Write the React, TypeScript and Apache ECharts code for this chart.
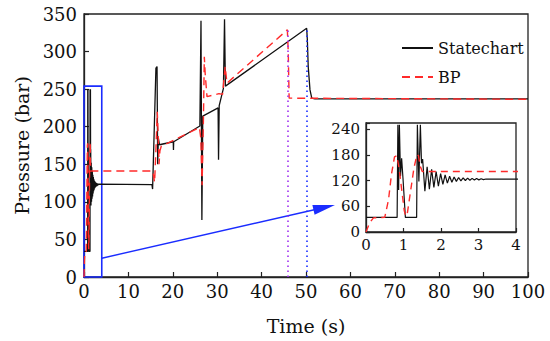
import React, { useEffect, useRef } from "react";
import * as echarts from "echarts";

// Time (s), Pressure (bar)
const statechart: [number, number][] = [
  [0, 34], [0.83, 34], [0.85, 250], [0.87, 98], [0.89, 250], [0.92, 130], [0.95, 172], [0.99, 120], [1.05, 34],
  [1.35, 34], [1.37, 250], [1.41, 118], [1.45, 250], [1.48, 160], [1.51, 170], [1.57, 95], [1.63, 152], [1.69, 100],
  [1.75, 146], [1.81, 104], [1.87, 141], [1.93, 107], [1.99, 136], [2.05, 111], [2.11, 133], [2.17, 114], [2.23, 130],
  [2.29, 116], [2.35, 128], [2.41, 118], [2.47, 127], [2.53, 119], [2.59, 126], [2.65, 120], [2.71, 125.5], [2.77, 120.5],
  [2.83, 125], [2.89, 121], [2.95, 124.5], [3.01, 121.5], [3.07, 124], [3.13, 122], [3.2, 123.5], [3.3, 123],
  [15.3, 123], [15.45, 117], [16.2, 278], [16.45, 280], [16.6, 150], [16.75, 185], [17.0, 176], [20.1, 180],
  [20.15, 169], [20.2, 180], [26.1, 201], [26.35, 341], [26.45, 200], [26.55, 76], [26.75, 214], [30.2, 225],
  [30.3, 156], [30.45, 228], [31.4, 251], [31.65, 343], [31.85, 254], [50.15, 331], [50.3, 316], [50.5, 280],
  [50.9, 249], [51.3, 238], [52, 237], [100, 237],
];

const bp: [number, number][] = [
  [0, 0], [0.1, 22], [0.2, 33], [0.5, 34], [0.6, 75], [0.68, 135], [0.76, 175], [0.82, 178], [0.88, 150], [0.95, 100],
  [1.02, 50], [1.06, 37], [1.1, 42], [1.18, 90], [1.28, 150], [1.36, 180], [1.4, 178], [1.44, 155], [1.5, 141],
  [15.5, 141], [15.9, 126], [16.2, 170], [16.5, 220], [16.7, 190], [16.9, 150], [17.1, 168], [17.4, 174], [26.0, 199],
  [26.3, 185], [26.6, 122], [26.9, 210], [27.1, 293], [27.3, 270], [27.7, 240], [30.4, 244], [31.2, 243], [31.8, 280],
  [32.2, 258], [45.8, 329], [46.0, 300], [46.2, 238], [100, 236.5],
];

const seriesNames = ["Statechart", "BP"];
const mainX = { min: 0, max: 100, interval: 10 };
const mainY = { min: 0, max: 350, interval: 50 };
const insetX = { min: 0, max: 4, interval: 1 };
const insetY = { min: 0, max: 254, interval: 60 };
const zoomBox: [number, number, number, number] = [0, 0, 4, 254];
const arrowFrom: [number, number] = [4, 25];
const arrowTo: [number, number] = [54.1, 92.5];
const purpleMarker: [number, number] = [45.8, 329];
const blueMarker: [number, number] = [50.2, 331];

const FONT = "DejaVu Serif";

export default function App() {
  const ref = useRef<HTMLDivElement>(null);
  useEffect(() => {
    document.body.style.margin = "0";
    if (!ref.current) return;
    const chart = echarts.init(ref.current, undefined, { renderer: "svg" });
    const axisLine = { show: true, lineStyle: { color: "#222", width: 1.3 } };
    const tick = (len: number) => ({ show: true, inside: true, length: len, lineStyle: { color: "#222", width: 1.2 } });
    chart.setOption({
      animation: false,
      backgroundColor: "#fff",
      textStyle: { fontFamily: FONT },
      grid: [
        { left: 84, right: 22, top: 14, bottom: 64, show: true, borderColor: "#222", borderWidth: 1.3, backgroundColor: "transparent" },
        { left: 366, right: 34, top: 123, bottom: 109, show: true, borderColor: "#222", borderWidth: 1.3, backgroundColor: "#fff", z: 5 },
      ],
      legend: {
        data: seriesNames,
        orient: "vertical",
        left: 396,
        top: 33,
        itemWidth: 31,
        itemHeight: 14,
        itemGap: 9,
        itemStyle: { opacity: 0 },
        textStyle: { fontFamily: FONT, fontSize: 16, color: "#111", lineHeight: 20 },
      },
      xAxis: [
        {
          type: "value", gridIndex: 0, ...mainX,
          name: "Time (s)", nameLocation: "middle", nameGap: 39,
          nameTextStyle: { fontFamily: FONT, fontSize: 19, color: "#111" },
          axisLine, axisTick: tick(5), splitLine: { show: false },
          axisLabel: { fontFamily: FONT, fontSize: 18, color: "#111", margin: 5 },
        },
        {
          type: "value", gridIndex: 1, ...insetX,
          axisLine, axisTick: tick(4), splitLine: { show: false },
          axisLabel: { fontFamily: FONT, fontSize: 15, color: "#111", margin: 5 },
          z: 6,
        },
      ],
      yAxis: [
        {
          type: "value", gridIndex: 0, ...mainY,
          name: "Pressure (bar)", nameLocation: "middle", nameGap: 52,
          nameTextStyle: { fontFamily: FONT, fontSize: 19, color: "#111" },
          axisLine, axisTick: tick(5), splitLine: { show: false },
          axisLabel: { fontFamily: FONT, fontSize: 18, color: "#111", margin: 7 },
        },
        {
          type: "value", gridIndex: 1, ...insetY,
          axisLine, axisTick: tick(4), splitLine: { show: false },
          axisLabel: {
            fontFamily: FONT, fontSize: 15, color: "#111", margin: 6,
            formatter: (v: number) => (v % insetY.interval === 0 ? String(v) : ""),
          },
          z: 6,
        },
      ],
      series: [
        {
          name: seriesNames[0], type: "line", xAxisIndex: 0, yAxisIndex: 0,
          data: statechart, symbol: "none", showSymbol: false, lineStyle: { color: "#111", width: 1.3 }, itemStyle: { color: "#111" },
          z: 2,
        },
        {
          name: seriesNames[1], type: "line", xAxisIndex: 0, yAxisIndex: 0,
          data: bp, symbol: "none", showSymbol: false, lineStyle: { color: "#ff2a2a", width: 1.4, type: [8, 5] }, itemStyle: { color: "#ff2a2a" },
          z: 3,
        },
        {
          name: "markers", type: "line", xAxisIndex: 0, yAxisIndex: 0, data: [], symbol: "none", z: 4,
          markArea: {
            silent: true,
            itemStyle: { color: "rgba(0,0,0,0)", borderColor: "#1a2cff", borderWidth: 1.6 },
            label: { show: false },
            data: [[{ coord: [zoomBox[0], zoomBox[1]] }, { coord: [zoomBox[2], zoomBox[3]] }]],
          },
          markLine: {
            silent: true,
            label: { show: false },
            symbol: ["none", "none"],
            data: [
              [
                { coord: arrowFrom, symbol: "none", lineStyle: { color: "#1a2cff", width: 1.4, type: "solid" } },
                { coord: arrowTo, symbol: "triangle", symbolSize: [10, 22], itemStyle: { color: "#1a2cff" } },
              ],
              [
                { coord: [purpleMarker[0], 0], symbol: "none", lineStyle: { color: "#a030f0", width: 1.6, type: [1.5, 3.5] } },
                { coord: purpleMarker, symbol: "none" },
              ],
              [
                { coord: [blueMarker[0], 0], symbol: "none", lineStyle: { color: "#1a2cff", width: 1.6, type: [1.5, 3.5] } },
                { coord: blueMarker, symbol: "none" },
              ],
            ],
          },
        },
        {
          name: seriesNames[0], type: "line", xAxisIndex: 1, yAxisIndex: 1,
          data: statechart, symbol: "none", showSymbol: false, lineStyle: { color: "#111", width: 1.2 }, itemStyle: { color: "#111" }, z: 7, clip: true,
        },
        {
          name: seriesNames[1], type: "line", xAxisIndex: 1, yAxisIndex: 1,
          data: bp, symbol: "none", showSymbol: false, lineStyle: { color: "#ff2a2a", width: 1.4, type: [7, 5] }, itemStyle: { color: "#ff2a2a" }, z: 8, clip: true,
        },
      ],
    });
    return () => chart.dispose();
  }, []);
  return <div ref={ref} style={{ width: 550, height: 341 }} />;
}
